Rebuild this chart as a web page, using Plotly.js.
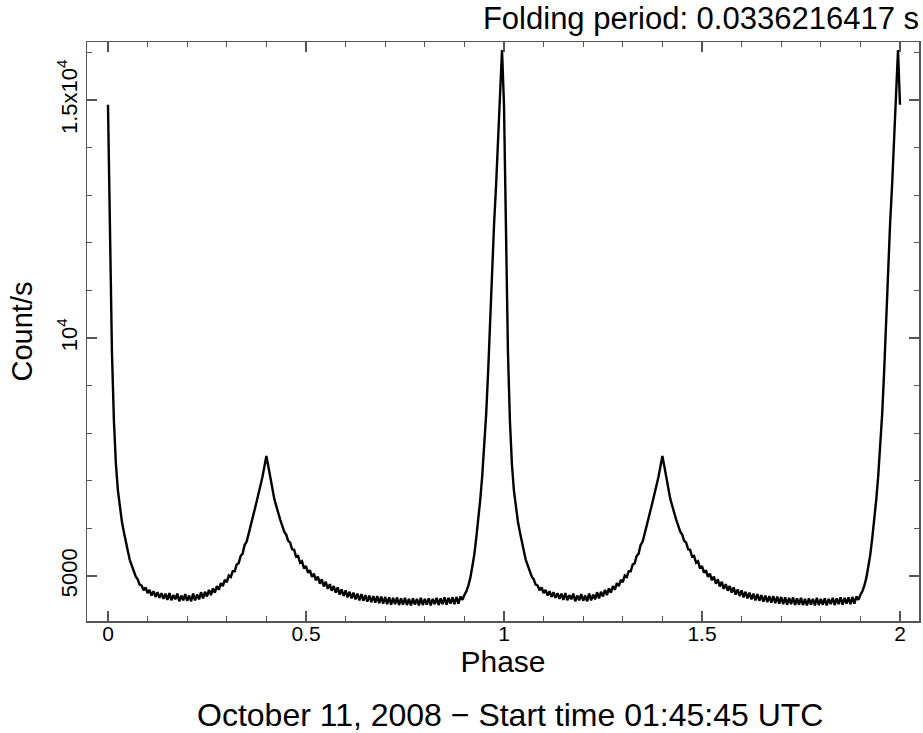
<!DOCTYPE html>
<html>
<head>
<meta charset="utf-8">
<script src="https://cdn.plot.ly/plotly-3.0.1.min.js"></script>
<style>html,body{margin:0;padding:0;background:#fff;}#chart{width:923px;height:733px;}</style>
</head>
<body>
<div id="chart"></div>
<script>
// Folded light curve, one period, bins of 0.005 in phase (phase 0 .. 0.995)
const binWidth = 0.005;
const countsPerSec = [
14900,12100,9700,8250,7350,6800,6420,6150,5930,5700,
5530,5340,5210,5120,4990,4930,4820,4800,4700,4760,
4640,4710,4590,4680,4560,4660,4540,4640,4520,4630,
4500,4640,4490,4600,4510,4630,4470,4590,4490,4620,
4480,4590,4470,4630,4490,4610,4510,4660,4530,4670,
4570,4710,4600,4740,4650,4790,4710,4850,4790,4920,
4870,5010,4980,5100,5100,5240,5270,5420,5470,5650,
5720,5880,6030,6200,6380,6550,6720,6900,7080,7300,
7520,7300,7050,6830,6620,6470,6310,6180,6060,5930,
5870,5740,5700,5560,5550,5410,5420,5280,5310,5160,
5210,5070,5120,4980,5050,4910,4990,4840,4930,4780,
4880,4730,4830,4690,4790,4650,4760,4610,4720,4580,
4700,4550,4670,4530,4650,4510,4630,4490,4620,4480,
4600,4460,4590,4450,4580,4440,4580,4430,4570,4420,
4560,4410,4550,4400,4540,4410,4550,4390,4530,4400,
4540,4390,4520,4380,4530,4400,4520,4380,4540,4390,
4520,4400,4530,4380,4520,4410,4540,4390,4530,4410,
4550,4400,4540,4420,4550,4410,4560,4420,4570,4500,
4600,4680,4800,4960,5200,5450,5800,6150,6600,7100,
7700,8400,9300,10400,11400,12400,13200,14100,14900,16050
];
const periodsShown = 2;
const xTickVals = [0, 0.5, 1, 1.5, 2];
const xTickText = ['0', '0.5', '1', '1.5', '2'];
const yTickVals = [5000, 10000, 15000];
const yTickText = ['5000', '10<sup>4</sup>', '1.5x10<sup>4</sup>'];
const titleText = 'Folding period: 0.0336216417 s';
const xTitle = 'Phase';
const yTitle = 'Count/s';
const footText = 'October 11, 2008 \u2212 Start time 01:45:45 UTC';

const phases = countsPerSec.map((_, i) => i * binWidth);
let xs = [], ys = [];
for (let p = 0; p < periodsShown; p++) {
  phases.forEach((ph, i) => { xs.push(ph + p); ys.push(countsPerSec[i]); });
}
xs.push(periodsShown); ys.push(countsPerSec[0]);

const FONT = 'Liberation Sans, Arial, Helvetica, sans-serif';
const axisCol = '#555';

const trace = {
  x: xs, y: ys, type: 'scatter', mode: 'lines',
  line: {color: '#000', width: 2.4},
  hoverinfo: 'skip'
};

const layout = {
  width: 923, height: 733,
  margin: {l: 87, r: 4, t: 42, b: 112},
  paper_bgcolor: '#fff', plot_bgcolor: '#fff',
  showlegend: false,
  font: {family: FONT, color: '#000'},
  title: {text: titleText, font: {family: FONT, size: 31, color: '#000'},
          xref: 'paper', x: 1, xanchor: 'right', yref: 'container', y: 1 - 18/733, yanchor: 'middle', pad: {t:0,b:0,l:0,r:0}},
  xaxis: {
    range: [-0.053, 2.048], showgrid: false, zeroline: false,
    showline: true, linecolor: axisCol, linewidth: 1.5, mirror: 'ticks',
    ticks: 'inside', ticklen: 10, tickwidth: 1.2, tickcolor: axisCol,
    tickvals: xTickVals, ticktext: xTickText, ticklabelstandoff: -7,
    tickfont: {family: FONT, size: 21, color: '#000'},
    minor: {ticks: 'inside', dtick: 0.1, tick0: 0, ticklen: 5, tickwidth: 1.2, tickcolor: axisCol},
    title: {text: xTitle, font: {family: FONT, size: 30, color: '#000'}, standoff: 0}
  },
  yaxis: {
    range: [4055, 16218], showgrid: false, zeroline: false,
    showline: true, linecolor: axisCol, linewidth: 1.5, mirror: 'ticks',
    ticks: 'inside', ticklen: 10, tickwidth: 1.2, tickcolor: axisCol,
    tickvals: yTickVals, ticktext: yTickText, tickangle: -90,
    tickfont: {family: FONT, size: 22, color: '#000'},
    minor: {ticks: 'inside', dtick: 1000, tick0: 0, ticklen: 5, tickwidth: 1.2, tickcolor: axisCol},
    title: {text: yTitle, font: {family: FONT, size: 29, color: '#000'}, standoff: 12}
  },
  annotations: [{
    text: footText, xref: 'paper', yref: 'paper', x: (510-87)/832, y: -(715-621)/579,
    xanchor: 'center', yanchor: 'middle', showarrow: false,
    font: {family: FONT, size: 32, color: '#000'}
  }]
};

Plotly.newPlot('chart', [trace], layout, {displayModeBar: false, staticPlot: true});
</script>
</body>
</html>
